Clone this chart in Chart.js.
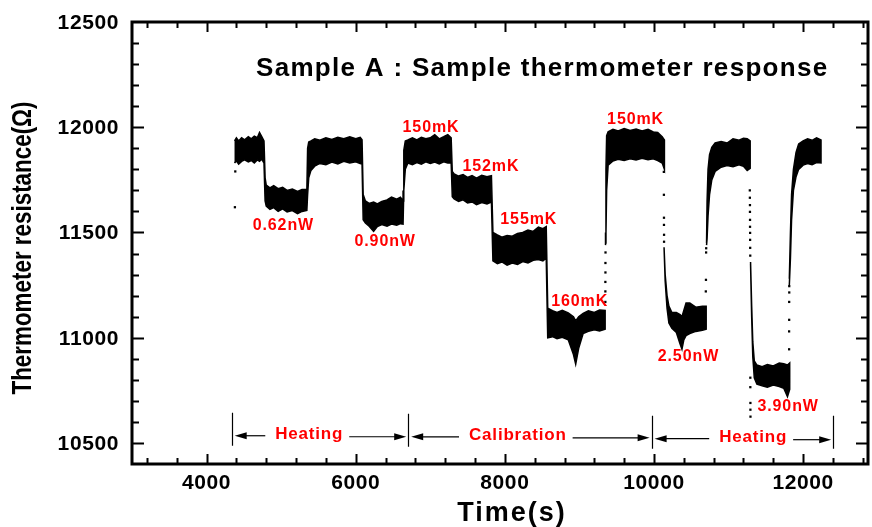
<!DOCTYPE html>
<html>
<head>
<meta charset="utf-8">
<title>Sample A : Sample thermometer response</title>
<script src="https://cdn.jsdelivr.net/npm/chart.js@4.4.1/dist/chart.umd.min.js"></script>
<style>
  html, body { margin: 0; padding: 0; background: #fff; }
  #chart { display: block; }
</style>
</head>
<body>
<canvas id="chart" width="872" height="527"></canvas>
<script>
// noisy trace as bands: [time (s), upper edge, lower edge] in ohm
var bandA = [
  [4375, 11935, 11830], [4400, 11950, 11840], [4430, 11935, 11825], [4470, 11950, 11838],
  [4510, 11940, 11845], [4560, 11955, 11835], [4600, 11945, 11842], [4640, 11958, 11830],
  [4680, 11950, 11845], [4710, 11975, 11838], [4740, 11955, 11848], [4770, 11935, 11830],
  [4785, 11760, 11650], [4800, 11725, 11625], [4850, 11712, 11610], [4900, 11722, 11618],
  [4960, 11708, 11600], [5020, 11715, 11612], [5080, 11700, 11598], [5150, 11706, 11604],
  [5220, 11695, 11590], [5280, 11704, 11600], [5345, 11705, 11605],
  [5355, 11900, 11680], [5370, 11930, 11760], [5400, 11935, 11795], [5450, 11945, 11815],
  [5520, 11938, 11828], [5600, 11950, 11822], [5680, 11942, 11835], [5760, 11952, 11826],
  [5840, 11945, 11838], [5920, 11955, 11830], [6000, 11946, 11836], [6060, 11952, 11828],
  [6085, 11940, 11825], [6100, 11680, 11560], [6130, 11650, 11545], [6180, 11638, 11530],
  [6240, 11645, 11505], [6290, 11636, 11528], [6350, 11648, 11538], [6420, 11655, 11530],
  [6480, 11668, 11540], [6550, 11658, 11535], [6600, 11668, 11542], [6635, 11650, 11540],
  [6645, 11890, 11700], [6665, 11935, 11800], [6700, 11940, 11830], [6760, 11950, 11822],
  [6820, 11940, 11832], [6880, 11952, 11825], [6940, 11945, 11836], [7000, 11950, 11828],
  [7060, 11965, 11835], [7120, 11945, 11826], [7180, 11955, 11836], [7235, 11965, 11830],
  [7280, 11950, 11830], [7295, 11790, 11670], [7320, 11778, 11660], [7380, 11768, 11648],
  [7440, 11775, 11655], [7500, 11762, 11640], [7560, 11770, 11645], [7620, 11758, 11632],
  [7690, 11772, 11642], [7760, 11765, 11636], [7820, 11770, 11645],
  [7840, 11500, 11365], [7900, 11488, 11352], [7960, 11478, 11360], [8030, 11486, 11345],
  [8100, 11482, 11355], [8170, 11495, 11348], [8240, 11500, 11362], [8310, 11512, 11355],
  [8380, 11505, 11368], [8450, 11525, 11372], [8510, 11518, 11365], [8555, 11528, 11378],
  [8575, 11140, 11000], [8640, 11128, 11005], [8700, 11120, 10995], [8770, 11130, 11002],
  [8850, 11118, 10990], [8920, 11100, 10920], [8950, 11080, 10875], [8990, 11100, 10950],
  [9050, 11115, 11020], [9120, 11128, 11030], [9200, 11120, 11038], [9270, 11132, 11032],
  [9345, 11130, 11040]
];
var bandB = [
  [9350, 11450, 11440], [9356, 11800, 11500], [9365, 11960, 11700], [9385, 11978, 11820],
  [9450, 11990, 11840], [9520, 11982, 11848], [9600, 11994, 11842], [9680, 11985, 11850],
  [9760, 11992, 11845], [9840, 11982, 11852], [9920, 11990, 11846], [9990, 11978, 11850],
  [10050, 11975, 11842], [10110, 11955, 11830], [10140, 11940, 11800]
];
var bandC = [
  [10135, 11430, 11430], [10150, 11300, 11270], [10175, 11200, 11140], [10200, 11150, 11070],
  [10240, 11120, 11045], [10300, 11120, 11025], [10350, 11110, 10970], [10375, 11100, 10945],
  [10400, 11130, 10990], [10430, 11165, 11010], [10480, 11165, 11020], [10560, 11145, 11030],
  [10650, 11150, 11035], [10700, 11150, 11040]
];
var bandD = [
  [10705, 11450, 11440], [10712, 11650, 11470], [10725, 11800, 11580], [10745, 11870, 11680],
  [10775, 11905, 11750], [10820, 11925, 11790], [10900, 11932, 11810], [10980, 11925, 11818],
  [11060, 11945, 11812], [11140, 11938, 11822], [11200, 11948, 11815], [11250, 11945, 11795],
  [11290, 11935, 11805]
];
var bandE = [
  [11295, 11360, 11350], [11310, 11150, 11100], [11325, 10980, 10910], [11345, 10890, 10810],
  [11380, 10870, 10780], [11450, 10862, 10772], [11520, 10872, 10765], [11600, 10866, 10775],
  [11680, 10880, 10768], [11740, 10876, 10760], [11790, 10870, 10720], [11820, 10880, 10755]
];
var bandF = [
  [11815, 11280, 11250], [11830, 11500, 11380], [11845, 11680, 11560], [11870, 11800, 11700],
  [11905, 11880, 11765], [11940, 11920, 11800], [12000, 11935, 11820], [12060, 11945, 11828],
  [12120, 11938, 11822], [12180, 11950, 11832], [12240, 11940, 11830]
];

// single readings caught during the fast transitions
var samples = [
  [4380, 11620], [4385, 11790],
  [9348, 11170], [9348, 11220], [9348, 11265], [9349, 11310], [9349, 11355], [9350, 11405],
  [10132, 11788], [10133, 11679], [10134, 11570], [10134, 11536], [10135, 11489], [10135, 11456],
  [10695, 11220], [10697, 11275], [10699, 11405], [10700, 11425],
  [11285, 11700], [11286, 11665], [11287, 11630], [11287, 11598], [11288, 11560], [11288, 11527],
  [11289, 11498], [11289, 11465], [11290, 11427], [11291, 11390],
  [11292, 10810], [11292, 10765], [11293, 10690], [11293, 10658], [11294, 10625],
  [11812, 10945], [11812, 11030], [11813, 11085], [11813, 11170], [11814, 11215], [11814, 11245]
];

var xTicks = [4000, 6000, 8000, 10000, 12000];
var yTicks = [10500, 11000, 11500, 12000, 12500];

// red notes next to each step
var noteText = ["0.62nW", "0.90nW", "150mK", "152mK", "155mK", "160mK", "150mK", "2.50nW", "3.90nW"];
var noteTime = [5030, 6395, 7010, 7813, 8321, 9003, 9753, 10462, 11799];
var noteRes = [11531, 11455, 11997, 11812, 11560, 11171, 12035, 10909, 10672];

// heating / calibration phases along the bottom
var phaseEdges = [4337, 6704, 9968, 12403];
var phaseNames = ["Heating", "Calibration", "Heating"];
var phaseTextTime = [5377, 8174, 11330];
var phaseRes = [10539, 10534, 10525];

function bandPoints(band) {
  var top = band.map(function (p) { return { x: p[0], y: p[1] }; });
  var bottom = band.map(function (p) { return { x: p[0], y: p[2] }; }).reverse();
  return top.concat(bottom);
}

var datasets = [bandA, bandB, bandC, bandD, bandE, bandF].map(function (b) {
  return {
    data: bandPoints(b),
    showLine: true,
    fill: "shape",
    backgroundColor: "#000",
    borderColor: "#000",
    borderWidth: 1.5,
    pointRadius: 0,
    tension: 0
  };
});
datasets.push({
  data: samples.map(function (p) { return { x: p[0], y: p[1] }; }),
  showLine: false,
  pointStyle: "rect",
  pointRadius: 1.6,
  backgroundColor: "#000",
  borderWidth: 0
});

function spacedText(ctx, text, x, y, spacing) {
  ctx.letterSpacing = spacing + "px";
  ctx.fillText(text, x, y);
  ctx.letterSpacing = "0px";
}

function arrow(ctx, x1, x2, y) {
  // line from x1 to x2 with the head at x2
  var dir = x2 > x1 ? 1 : -1;
  ctx.beginPath();
  ctx.moveTo(x1, y);
  ctx.lineTo(x2 - dir * 9, y);
  ctx.stroke();
  ctx.beginPath();
  ctx.moveTo(x2, y);
  ctx.lineTo(x2 - dir * 12, y - 3.5);
  ctx.lineTo(x2 - dir * 12, y + 3.5);
  ctx.closePath();
  ctx.fill();
}

var framePlugin = {
  id: "frame",
  afterDraw: function (chart) {
    var ctx = chart.ctx, a = chart.chartArea;
    var xs = chart.scales.x, ys = chart.scales.y;
    var v, p, len;
    ctx.save();
    ctx.strokeStyle = "#000";
    ctx.fillStyle = "#000";

    // inward ticks on all four sides
    ctx.lineWidth = 2;
    ctx.beginPath();
    for (v = 3200; v <= xs.max; v += 400) {
      p = Math.round(xs.getPixelForValue(v)) + 0.5;
      len = v % 2000 === 0 ? 10 : 6;
      ctx.moveTo(p, a.bottom); ctx.lineTo(p, a.bottom - len);
      ctx.moveTo(p, a.top); ctx.lineTo(p, a.top + len);
    }
    for (v = 10500; v < ys.max; v += 100) {
      p = Math.round(ys.getPixelForValue(v)) + 0.5;
      len = v % 500 === 0 ? 12 : 7;
      ctx.moveTo(a.left, p); ctx.lineTo(a.left + len, p);
      ctx.moveTo(a.right, p); ctx.lineTo(a.right - len, p);
    }
    ctx.stroke();

    ctx.lineWidth = 3;
    ctx.strokeRect(a.left, a.top, a.right - a.left, a.bottom - a.top);

    // tick labels
    ctx.font = "bold 21px 'Liberation Sans', Arial, sans-serif";
    ctx.textBaseline = "middle";
    ctx.textAlign = "right";
    yTicks.forEach(function (t) {
      spacedText(ctx, String(t), 119, ys.getPixelForValue(t) + 1, 0.6);
    });
    ctx.textAlign = "center";
    xTicks.forEach(function (t) {
      spacedText(ctx, String(t), xs.getPixelForValue(t), 483, 0.6);
    });

    // axis titles and heading
    ctx.font = "bold 27px 'Liberation Sans', Arial, sans-serif";
    spacedText(ctx, "Time(s)", 512, 514, 2);
    ctx.save();
    ctx.translate(23, 248);
    ctx.rotate(-Math.PI / 2);
    ctx.scale(0.8, 1);
    ctx.font = "bold 28px 'Liberation Sans', Arial, sans-serif";
    ctx.fillText("Thermometer resistance(\u03A9)", 0, 0);
    ctx.restore();

    ctx.font = "bold 26px 'Liberation Sans', Arial, sans-serif";
    ctx.textAlign = "left";
    spacedText(ctx, "Sample A : Sample thermometer response", 256, 69, 1.3);

    // red notes
    ctx.fillStyle = "#ff0000";
    ctx.font = "bold 16px 'Liberation Sans', Arial, sans-serif";
    ctx.textAlign = "center";
    noteText.forEach(function (t, i) {
      spacedText(ctx, t, xs.getPixelForValue(noteTime[i]), ys.getPixelForValue(noteRes[i]), 0.9);
    });

    // phase markers
    ctx.lineWidth = 1.2;
    ctx.beginPath();
    phaseEdges.forEach(function (t, i) {
      var px = Math.round(xs.getPixelForValue(t)) + 0.5;
      var yc = ys.getPixelForValue(phaseRes[Math.min(i, phaseRes.length - 1)]);
      ctx.moveTo(px, yc - 22);
      ctx.lineTo(px, yc + 11);
    });
    ctx.stroke();
    ctx.font = "bold 17px 'Liberation Sans', Arial, sans-serif";
    phaseNames.forEach(function (name, i) {
      var yc = ys.getPixelForValue(phaseRes[i]);
      var cx = xs.getPixelForValue(phaseTextTime[i]);
      ctx.letterSpacing = "0.8px";
      var w = ctx.measureText(name).width;
      ctx.fillStyle = "#ff0000";
      ctx.fillText(name, cx, yc);
      ctx.letterSpacing = "0px";
      ctx.fillStyle = "#000";
      var left = xs.getPixelForValue(phaseEdges[i]);
      var right = xs.getPixelForValue(phaseEdges[i + 1]);
      arrow(ctx, cx - w / 2 - 10, left + 3, yc + 1);
      arrow(ctx, cx + w / 2 + 6, right - 2, yc + 2);
    });
    ctx.restore();
  }
};

new Chart(document.getElementById("chart"), {
  type: "scatter",
  data: { datasets: datasets },
  options: {
    responsive: false,
    animation: false,
    layout: { padding: { left: 132, right: 2, top: 22, bottom: 63 } },
    scales: {
      x: { type: "linear", min: 3000, max: 12870, display: false },
      y: { type: "linear", min: 10400, max: 12500, display: false }
    },
    plugins: { legend: { display: false }, tooltip: { enabled: false } }
  },
  plugins: [framePlugin]
});
</script>
</body>
</html>
